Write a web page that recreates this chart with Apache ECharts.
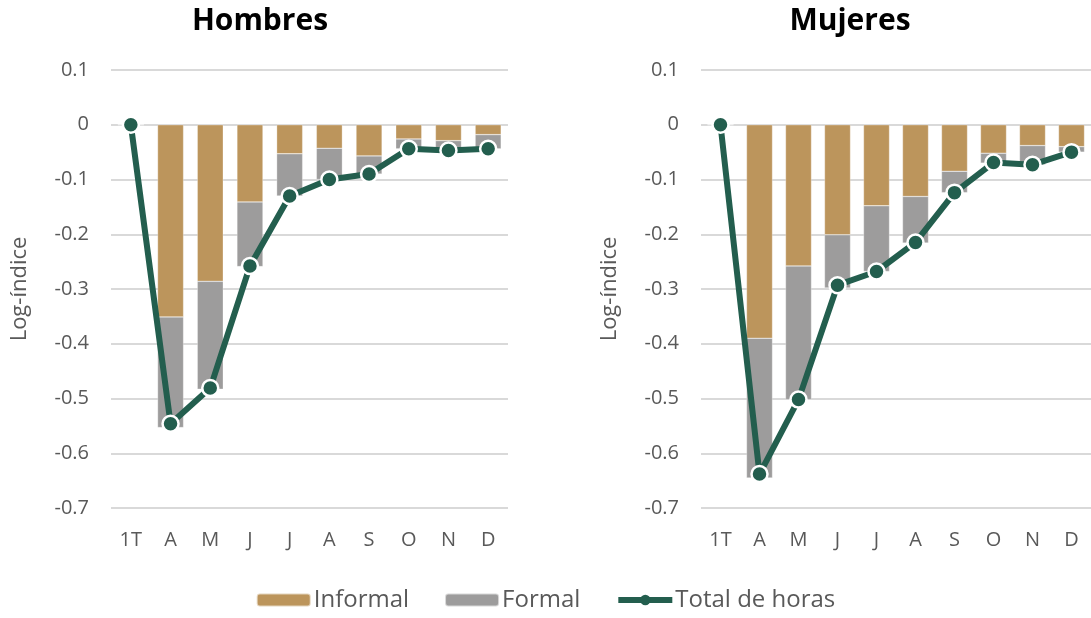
<!DOCTYPE html>
<html>
<head>
<meta charset="utf-8">
<script src="https://cdn.jsdelivr.net/npm/echarts@6/dist/echarts.min.js"></script>
<style>
  html, body { margin: 0; padding: 0; background: #fff; }
  #main { width: 1091px; height: 618px; }
</style>
</head>
<body>
<div id="main"></div>
<script>
// categorias (meses)
var meses = ['1T', 'A', 'M', 'J', 'J', 'A', 'S', 'O', 'N', 'D'];
var yTicks = [0.1, 0, -0.1, -0.2, -0.3, -0.4, -0.5, -0.6, -0.7];

// Hombres
var hInformal = [0, -0.351, -0.286, -0.141, -0.053, -0.043, -0.057, -0.026, -0.029, -0.018];
var hFormal   = [0, -0.202, -0.197, -0.118, -0.077, -0.057, -0.033, -0.018, -0.017, -0.026];
var hTotal    = [0, -0.546, -0.481, -0.258, -0.130, -0.100, -0.090, -0.044, -0.047, -0.044];

// Mujeres
var mInformal = [0, -0.390, -0.258, -0.201, -0.148, -0.131, -0.085, -0.052, -0.038, -0.040];
var mFormal   = [0, -0.255, -0.244, -0.097, -0.120, -0.085, -0.039, -0.018, -0.035, -0.010];
var mTotal    = [0, -0.638, -0.502, -0.293, -0.268, -0.215, -0.124, -0.069, -0.073, -0.050];

var FONT = '"Open Sans", "DejaVu Sans", sans-serif';
var COL_INF = '#BC955C', COL_FOR = '#9D9C9C', COL_TOT = '#235E4E';

var myChart = echarts.init(document.getElementById('main'));

function xAxisCfg(idx) {
    return {
        type: 'category', gridIndex: idx, data: meses,
        axisLine: { show: false }, axisTick: { show: false },
        axisLabel: { color: '#595959', fontSize: 20, fontFamily: FONT, margin: 22 }
    };
}
function yAxisCfg(idx) {
    return {
        type: 'value', gridIndex: idx, min: -0.7, max: 0.1, interval: 0.1,
        name: 'Log-índice', nameLocation: 'middle', nameGap: 80,
        nameTextStyle: { color: '#595959', fontSize: 22, fontFamily: FONT },
        axisLine: { show: false }, axisTick: { show: false },
        axisLabel: {
            color: '#595959', fontSize: 20, fontFamily: FONT, margin: 22,
            formatter: function (v) { return String(parseFloat(v.toFixed(1))); }
        },
        splitLine: { lineStyle: { color: '#D9D9D9', width: 2 } }
    };
}
function barSerie(name, data, idx, color) {
    return {
        name: name, type: 'bar', stack: 's' + idx, xAxisIndex: idx, yAxisIndex: idx,
        data: data, barWidth: 26,
        itemStyle: { color: color, borderColor: 'rgba(255,255,255,0.6)', borderWidth: 0.5 }
    };
}
function lineSerie(data, idx) {
    return {
        name: 'Total de horas', type: 'line', xAxisIndex: idx, yAxisIndex: idx,
        data: data, symbol: 'circle', symbolSize: 16, z: 5, color: COL_TOT,
        lineStyle: { color: COL_TOT, width: 6 },
        itemStyle: { color: COL_TOT, borderColor: '#fff', borderWidth: 2.5 }
    };
}

option = {
    animation: false,
    backgroundColor: '#fff',
    title: [
        { text: 'Hombres', left: 255, top: 1, textAlign: 'center',
          textStyle: { fontSize: 30, fontWeight: 'bold', color: '#000', fontFamily: FONT } },
        { text: 'Mujeres', left: 845, top: 1, textAlign: 'center',
          textStyle: { fontSize: 30, fontWeight: 'bold', color: '#000', fontFamily: FONT } }
    ],
    legend: {
        bottom: 1, left: 'center', itemGap: 35, itemWidth: 54, itemHeight: 13,
        data: [
            { name: 'Informal' },
            { name: 'Formal' },
            { name: 'Total de horas',
              lineStyle: { width: 6 },
              itemStyle: { borderWidth: 0 } }
        ],
        textStyle: { color: '#595959', fontSize: 24, fontFamily: FONT, padding: [0, 0, 0, -2] }
    },
    grid: [
        { left: 111, width: 397, top: 70, height: 438 },
        { left: 701, width: 397, top: 70, height: 438 }
    ],
    xAxis: [xAxisCfg(0), xAxisCfg(1)],
    yAxis: [yAxisCfg(0), yAxisCfg(1)],
    series: [
        barSerie('Informal', hInformal, 0, COL_INF),
        barSerie('Formal', hFormal, 0, COL_FOR),
        lineSerie(hTotal, 0),
        barSerie('Informal', mInformal, 1, COL_INF),
        barSerie('Formal', mFormal, 1, COL_FOR),
        lineSerie(mTotal, 1)
    ]
};

myChart.setOption(option);
</script>
</body>
</html>
